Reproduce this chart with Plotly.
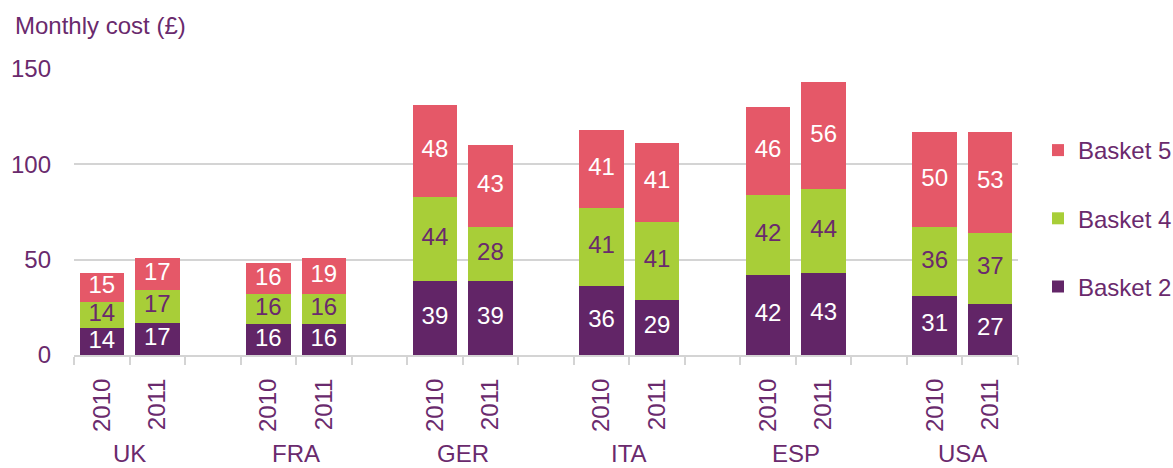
import plotly.graph_objects as go

countries = ["UK", "FRA", "GER", "ITA", "ESP", "USA"]
years = ["2010", "2011"]

# values per country, [2010, 2011]
basket2 = [[14, 17], [16, 16], [39, 39], [36, 29], [42, 43], [31, 27]]
basket4 = [[14, 17], [16, 16], [44, 28], [41, 41], [42, 44], [36, 37]]
basket5 = [[15, 17], [16, 19], [48, 43], [41, 41], [46, 56], [50, 53]]

y_ticks = [0, 50, 100, 150]

PURPLE = "#622567"
GREEN = "#A8CE38"
PINK = "#E55868"
TEXT = "#6A2A6D"
GRID = "#D4D4D4"
FONT = "Liberation Sans, Arial, sans-serif"
FS = 24

slot = 3  # two years + one gap per country
xs, xt = [], []
for i, c in enumerate(countries):
    for j, yr in enumerate(years):
        xs.append(slot * i + j)
        xt.append(yr)

def flat(v):
    return [a for pair in v for a in pair]

series = [
    ("Basket 2", basket2, PURPLE, "white", 3),
    ("Basket 4", basket4, GREEN, TEXT, 2),
    ("Basket 5", basket5, PINK, "white", 1),
]

fig = go.Figure()
base = [0] * len(xs)
for name, vals, col, tcol, rank in series:
    v = flat(vals)
    fig.add_trace(go.Bar(
        x=xs, y=v, name=name, legendgroup=name, legendrank=rank,
        marker=dict(color=col, line=dict(width=0)),
        width=0.8, hoverinfo="skip",
    ))
    mids = [b + a / 2 for a, b in zip(v, base)]
    fig.add_trace(go.Scatter(
        x=xs, y=mids, mode="text", text=[str(a) for a in v],
        textposition="middle center", showlegend=False,
        textfont=dict(color=tcol, size=FS, family=FONT),
        hoverinfo="skip", cliponaxis=False,
    ))
    base = [b + a for a, b in zip(v, base)]

n_slots = slot * len(countries) - 1
boundaries = [k - 0.5 for k in range(n_slots + 1)]

annotations = []
plot_h = 468 - 69 - 113
for i, c in enumerate(countries):
    annotations.append(dict(
        x=slot * i + 0.5, xref="x", y=-(453 - 355) / plot_h, yref="paper",
        text=c, showarrow=False, xanchor="center", yanchor="middle",
        font=dict(size=FS, color=TEXT, family=FONT),
    ))
annotations.append(dict(
    x=(13 - 74) / 944, xref="paper", y=(355 - 25) / plot_h, yref="paper",
    text="Monthly cost (£)", showarrow=False, xanchor="left", yanchor="middle",
    font=dict(size=FS, color=TEXT, family=FONT),
))

fig.update_layout(
    width=1173, height=468,
    margin=dict(l=74, r=155, t=69, b=113, autoexpand=False),
    paper_bgcolor="white", plot_bgcolor="white",
    barmode="stack", bargap=0.2,
    font=dict(family=FONT, size=FS, color=TEXT),
    showlegend=True,
    legend=dict(
        traceorder="grouped", tracegroupgap=34,
        xref="container", yref="container",
        x=1038 / 1173, xanchor="left", y=1 - 128 / 468, yanchor="top",
        font=dict(size=FS, color=TEXT, family=FONT),
        bgcolor="rgba(0,0,0,0)",
    ),
    xaxis=dict(
        range=[-0.5, n_slots - 0.5], automargin=False,
        tickvals=xs, ticktext=xt, tickangle=-90,
        ticks="", showgrid=False, zeroline=False,
        showline=True, linecolor=GRID, linewidth=2,
        ticklabelstandoff=12,
        tickfont=dict(size=FS, color=TEXT, family=FONT),
        minor=dict(tickvals=boundaries, ticks="outside", ticklen=8,
                   tickcolor=GRID, tickwidth=2, showgrid=False),
    ),
    yaxis=dict(
        range=[0, 150], tickvals=y_ticks, automargin=False,
        showgrid=True, gridcolor=GRID, gridwidth=2,
        zeroline=False, showline=False, ticks="",
        ticklabelstandoff=22,
        tickfont=dict(size=FS, color=TEXT, family=FONT),
    ),
    annotations=annotations,
)

fig.write_html("out.html", config={"displayModeBar": False},
               post_script="document.body.style.margin='0';")
